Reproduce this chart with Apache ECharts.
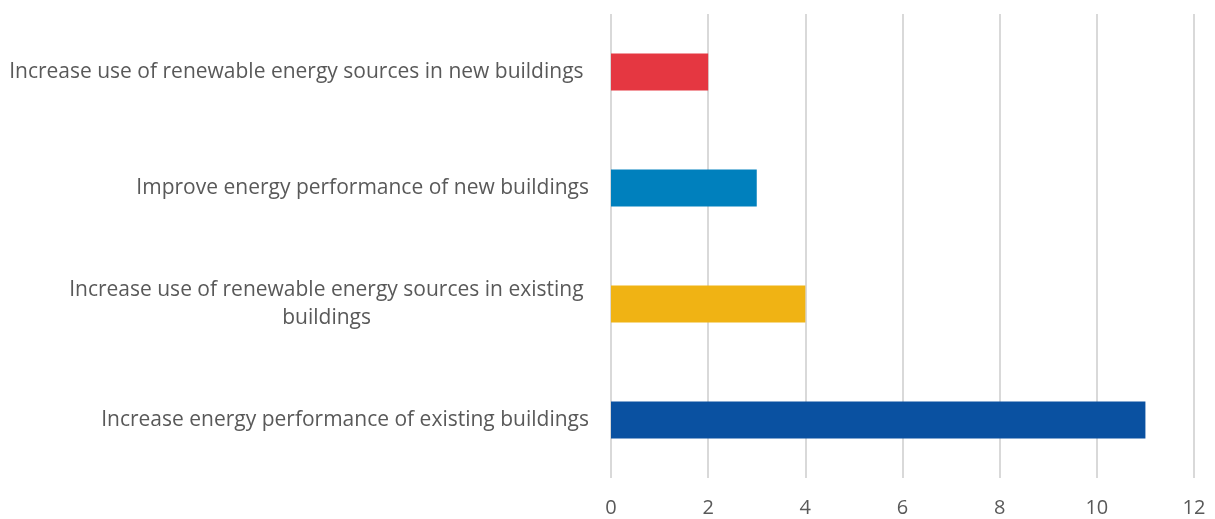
<!DOCTYPE html>
<html>
  <head>
    <meta charset="utf-8" />
    <title></title>
    <style>
      body {
        margin: 0;
        padding: 0;
        background: #fff;
      }
      #chart {
        width: 1215px;
        height: 519px;
      }
    </style>
    <script src="https://cdn.jsdelivr.net/npm/echarts@6/dist/echarts.min.js"></script>
  </head>

  <body>
    <div id="chart"></div>
  </body>
  <script>
    // bottom to top
    const categories = [
      "Increase energy performance of existing buildings",
      "Increase use of renewable energy sources in existing buildings",
      "Improve energy performance of new buildings",
      "Increase use of renewable energy sources in new buildings",
    ];
    const values = [11, 4, 3, 2];
    const barColors = ["#0A51A1", "#F0B314", "#0080BD", "#E53741"];

    const ticks = { min: 0, max: 12, interval: 2 };

    const font = "Open Sans";

    function labelFormatter(value) {
      if (value === categories[1]) {
        return (
          "{a|Increase use of renewable energy sources in existing }\n" +
          "{b|buildings}"
        );
      }
      if (value === categories[3]) {
        return "{a|" + value + " }";
      }
      return "{a|" + value + "}";
    }

    const option = {
      animation: false,
      grid: {
        left: 611,
        right: 21,
        top: 14,
        bottom: 41,
        containLabel: false,
      },
      xAxis: {
        type: "value",
        min: ticks.min,
        max: ticks.max,
        interval: ticks.interval,
        axisLine: { show: false },
        axisTick: { show: false },
        splitLine: { lineStyle: { color: "#D9D9D9", width: 2 } },
        axisLabel: {
          margin: 20,
          color: "#595959",
          fontFamily: font,
          fontSize: 20,
        },
      },
      yAxis: {
        type: "category",
        data: categories,
        axisLine: { show: false },
        axisTick: { show: false },
        axisLabel: {
          margin: 22,
          color: "#595959",
          fontFamily: font,
          fontSize: 21,
          formatter: labelFormatter,
          rich: {
            a: {
              color: "#595959",
              fontFamily: font,
              fontSize: 21,
              lineHeight: 28,
            },
            b: {
              color: "#595959",
              fontFamily: font,
              fontSize: 21,
              lineHeight: 28,
              padding: [0, 218, 0, 0],
            },
          },
        },
      },
      series: [
        {
          type: "bar",
          barWidth: 37,
          data: values.map((v, i) => ({
            value: v,
            itemStyle: { color: barColors[i] },
          })),
        },
      ],
    };

    const myChart = echarts.init(document.getElementById("chart"));
    myChart.setOption(option);
  </script>
</html>
